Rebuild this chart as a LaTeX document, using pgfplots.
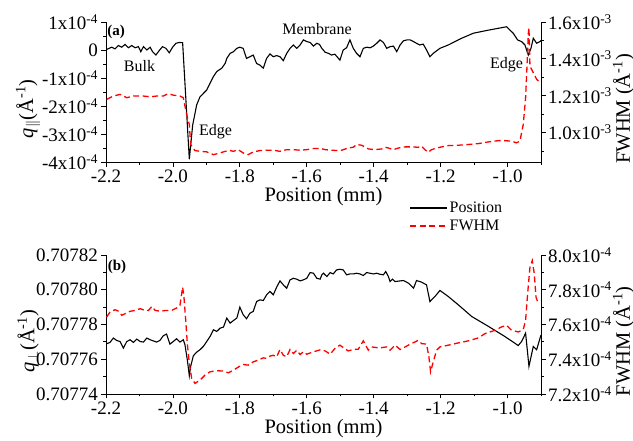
\documentclass[border=0pt]{standalone}
\usepackage{pgfplots}
\pgfplotsset{compat=1.18}
\usepackage{fontspec}
\setmainfont{Liberation Serif}

\tikzset{
  posline/.style={black, line width=1.1pt},
  fwline/.style={red, line width=1.3pt, dash pattern=on 6pt off 3.5pt},
}
\pgfplotsset{
  panel/.style={
    width=435pt, scale only axis,
    xmin=-2.2, xmax=-0.9,
    tick align=outside,
    axis line style={line width=0.8pt},
    major tick length=4.5pt, minor tick length=2.5pt,
    every tick/.style={black, line width=0.8pt},
    tick label style={font=\fontsize{19}{19}\selectfont},
    label style={font=\fontsize{20.5}{20.5}\selectfont},
  },
  leftpanel/.style={panel,
    axis y line*=left, axis x line*=bottom,
    xtick={-2.2,-2.0,-1.8,-1.6,-1.4,-1.2,-1.0},
    xticklabels={-2.2,-2.0,-1.8,-1.6,-1.4,-1.2,-1.0},
    minor xtick={-2.1,-1.9,-1.7,-1.5,-1.3,-1.1,-0.9},
    xlabel={Position (mm)},
    xlabel style={yshift=3pt},
    ylabel style={at={(axis description cs:-0.179,0.38)}, anchor=center},
  },
  rightpanel/.style={panel,
    axis y line*=right, axis x line=none,
    yticklabel style={xshift=-1pt},
    ylabel={FWHM (Å\textsuperscript{-1})},
    ylabel style={at={(axis description cs:1.19,0.38)}, anchor=center},
  },
}

\begin{document}
\begin{tikzpicture}
\path[use as bounding box] (0,0) rectangle (633pt,-440pt);

% ---------- (a) ----------
\begin{axis}[leftpanel,
  at={(106pt,-22pt)}, anchor=north west, height=140pt,
  ymin=-4, ymax=1,
  ytick={-4,-3,-2,-1,0,1},
  yticklabels={-4x10\textsuperscript{-4},-3x10\textsuperscript{-4},-2x10\textsuperscript{-4},-1x10\textsuperscript{-4},0,1x10\textsuperscript{-4}},
  minor ytick={-3.5,-2.5,-1.5,-0.5,0.5},
  ylabel={\textit{q}\textsubscript{\ensuremath{\|}}(Å\textsuperscript{-1})},
  legend style={at={(0.69,-0.393)}, anchor=west, draw=none, fill=none,
    font=\fontsize{16}{16}\selectfont, row sep=2pt},
  legend cell align=left,
  legend image code/.code={\draw[#1] (0pt,0pt) -- (37pt,0pt);},
]
\addplot[posline] coordinates {
(-2.198,0.02) (-2.183,0.10) (-2.173,0.04) (-2.163,0.16) (-2.153,0.10) (-2.143,0.20)
(-2.133,0.08) (-2.123,0.16) (-2.113,0.08) (-2.103,0.12) (-2.096,-0.06) (-2.088,0.12)
(-2.078,0.00) (-2.068,0.10) (-2.061,-0.06) (-2.051,-0.18) (-2.041,-0.02) (-2.031,0.12)
(-2.021,0.06) (-2.011,-0.10) (-2.001,0.10) (-1.991,0.24) (-1.981,0.27) (-1.971,0.26)
(-1.951,-3.90) (-1.941,-2.68) (-1.929,-1.96) (-1.919,-1.67) (-1.909,-1.55) (-1.899,-1.43)
(-1.889,-1.19) (-1.879,-0.95) (-1.869,-0.77) (-1.854,-0.65) (-1.844,-0.48) (-1.839,-0.30)
(-1.829,-0.12) (-1.819,-0.06) (-1.809,0.06) (-1.800,0.10) (-1.790,0.06) (-1.780,-0.30)
(-1.770,-0.24) (-1.760,-0.18) (-1.750,-0.48) (-1.740,-0.54) (-1.730,-0.65) (-1.720,-0.30)
(-1.710,-0.14) (-1.700,-0.24) (-1.690,-0.20) (-1.680,-0.24) (-1.670,-0.38) (-1.660,-0.12)
(-1.650,0.06) (-1.640,0.18) (-1.630,0.06) (-1.620,0.18) (-1.610,0.36) (-1.600,0.30)
(-1.590,0.27) (-1.580,0.14) (-1.570,0.24) (-1.562,0.20) (-1.555,0.06) (-1.545,-0.08)
(-1.535,-0.12) (-1.526,-0.18) (-1.516,-0.15) (-1.501,-0.36) (-1.491,0.00) (-1.481,0.08)
(-1.471,0.36) (-1.461,0.06) (-1.451,-0.12) (-1.441,-0.24) (-1.431,0.06) (-1.421,0.10)
(-1.411,0.08) (-1.401,0.14) (-1.391,0.24) (-1.381,0.36) (-1.371,0.27) (-1.361,0.06)
(-1.351,0.12) (-1.341,0.14) (-1.331,-0.06) (-1.321,0.18) (-1.311,0.33) (-1.301,0.36)
(-1.291,0.36) (-1.281,0.30) (-1.272,0.24) (-1.262,0.18) (-1.252,0.21) (-1.242,0.00)
(-1.232,-0.24) (-1.222,-0.12) (-1.202,0.06) (-1.177,0.18) (-1.137,0.42) (-1.102,0.60)
(-1.057,0.71) (-1.003,0.83) (-0.983,0.60) (-0.970,0.36) (-0.958,0.30) (-0.948,0.18)
(-0.938,-0.18) (-0.930,0.06) (-0.923,0.42) (-0.913,0.24) (-0.903,0.30) (-0.900,0.34)
};
\addlegendentry{Position}
\addlegendimage{fwline}
\addlegendentry{FWHM}
\end{axis}

\begin{axis}[rightpanel,
  at={(106pt,-22pt)}, anchor=north west, height=140pt,
  ymin=0.84, ymax=1.6,
  ytick={1.0,1.2,1.4,1.6},
  yticklabels={1.0x10\textsuperscript{-3},1.2x10\textsuperscript{-3},1.4x10\textsuperscript{-3},1.6x10\textsuperscript{-3}},
  minor ytick={0.9,1.1,1.3,1.5},
]
\addplot[fwline] coordinates {
(-2.198,1.180) (-2.178,1.198) (-2.158,1.207) (-2.138,1.189) (-2.118,1.198) (-2.088,1.198)
(-2.068,1.194) (-2.049,1.198) (-2.029,1.198) (-2.014,1.211) (-1.999,1.203) (-1.979,1.198)
(-1.969,1.189) (-1.959,1.098) (-1.951,1.044) (-1.947,0.935) (-1.934,0.902) (-1.919,0.898)
(-1.899,0.895) (-1.879,0.880) (-1.859,0.889) (-1.844,0.898) (-1.829,0.902) (-1.819,0.898)
(-1.805,0.907) (-1.790,0.889) (-1.775,0.880) (-1.760,0.895) (-1.740,0.902) (-1.720,0.904)
(-1.700,0.904) (-1.680,0.898) (-1.660,0.907) (-1.640,0.907) (-1.620,0.904) (-1.600,0.907)
(-1.580,0.913) (-1.560,0.914) (-1.545,0.907) (-1.526,0.904) (-1.506,0.902) (-1.496,0.904)
(-1.476,0.916) (-1.461,0.920) (-1.451,0.935) (-1.436,0.931) (-1.426,0.922) (-1.416,0.911)
(-1.396,0.907) (-1.376,0.911) (-1.366,0.920) (-1.356,0.916) (-1.341,0.907) (-1.326,0.916)
(-1.306,0.922) (-1.286,0.922) (-1.267,0.920) (-1.257,0.926) (-1.247,0.907) (-1.237,0.893)
(-1.227,0.907) (-1.212,0.916) (-1.197,0.922) (-1.177,0.929) (-1.147,0.931) (-1.117,0.935)
(-1.087,0.940) (-1.057,0.949) (-1.027,0.956) (-1.008,0.956) (-0.988,0.953) (-0.973,0.944)
(-0.963,0.953) (-0.953,1.044) (-0.946,1.189) (-0.942,1.352) (-0.938,1.534) (-0.936,1.570)
(-0.933,1.361) (-0.913,1.289) (-0.903,1.271)
};
\end{axis}

% ---------- (b) ----------
\begin{axis}[leftpanel,
  at={(106pt,-255pt)}, anchor=north west, height=139pt,
  ymin=0, ymax=8,
  ytick={0,2,4,6,8},
  yticklabels={0.70774,0.70776,0.70778,0.70780,0.70782},
  minor ytick={1,3,5,7},
  ylabel={\textit{q}\textsubscript{\ensuremath{\perp}}(Å\textsuperscript{-1})},
]
% values are (q - 0.70774) in units of 1e-5
\addplot[posline] coordinates {
(-2.198,2.89) (-2.188,2.97) (-2.178,3.22) (-2.168,3.08) (-2.158,3.02) (-2.148,2.64)
(-2.138,3.02) (-2.128,3.12) (-2.118,2.97) (-2.108,3.16) (-2.098,3.02) (-2.088,2.99)
(-2.078,3.22) (-2.068,3.12) (-2.059,3.06) (-2.049,2.99) (-2.039,3.08) (-2.029,3.35)
(-2.019,3.45) (-2.009,2.87) (-1.999,3.02) (-1.989,3.18) (-1.979,2.99) (-1.969,3.12)
(-1.964,2.83) (-1.957,1.97) (-1.951,1.05) (-1.947,1.59) (-1.939,2.20) (-1.929,2.41)
(-1.919,2.55) (-1.909,2.74) (-1.899,3.02) (-1.889,3.31) (-1.879,3.70) (-1.869,3.60)
(-1.859,3.79) (-1.849,3.85) (-1.839,4.37) (-1.829,4.08) (-1.819,4.23) (-1.809,4.37)
(-1.800,5.00) (-1.790,4.56) (-1.780,4.33) (-1.770,4.65) (-1.760,4.75) (-1.750,5.32)
(-1.740,5.42) (-1.730,5.38) (-1.720,5.71) (-1.710,5.90) (-1.700,5.71) (-1.690,6.15)
(-1.680,6.51) (-1.670,6.28) (-1.660,6.09) (-1.650,6.57) (-1.640,6.66) (-1.630,6.61)
(-1.620,6.51) (-1.610,6.57) (-1.600,6.66) (-1.590,6.99) (-1.580,6.95) (-1.570,6.66)
(-1.560,6.61) (-1.555,6.86) (-1.550,6.95) (-1.540,6.76) (-1.530,6.99) (-1.521,6.91)
(-1.511,7.14) (-1.501,7.18) (-1.491,7.14) (-1.481,6.86) (-1.471,6.91) (-1.461,6.91)
(-1.451,6.95) (-1.441,6.91) (-1.431,6.82) (-1.421,6.99) (-1.411,6.95) (-1.401,6.91)
(-1.391,6.95) (-1.381,6.89) (-1.371,6.86) (-1.364,7.05) (-1.356,6.76) (-1.351,6.47)
(-1.344,6.61) (-1.336,6.47) (-1.321,6.51) (-1.311,6.53) (-1.296,6.38) (-1.281,6.09)
(-1.272,6.53) (-1.257,6.44) (-1.242,6.28) (-1.232,5.32) (-1.217,5.61) (-1.202,5.96)
(-1.177,5.61) (-1.147,5.13) (-1.107,4.46) (-1.057,3.89) (-1.008,3.31) (-0.968,2.79)
(-0.958,3.02) (-0.946,3.50) (-0.936,1.59) (-0.923,2.74) (-0.913,2.55) (-0.900,3.40)
};
\end{axis}

\begin{axis}[rightpanel,
  at={(106pt,-255pt)}, anchor=north west, height=139pt,
  ymin=7.2, ymax=8.0,
  ytick={7.2,7.4,7.6,7.8,8.0},
  yticklabels={7.2x10\textsuperscript{-4},7.4x10\textsuperscript{-4},7.6x10\textsuperscript{-4},7.8x10\textsuperscript{-4},8.0x10\textsuperscript{-4}},
  minor ytick={7.3,7.5,7.7,7.9},
]
\addplot[fwline] coordinates {
(-2.198,7.643) (-2.188,7.672) (-2.173,7.685) (-2.163,7.677) (-2.153,7.653) (-2.143,7.662)
(-2.128,7.676) (-2.113,7.681) (-2.098,7.691) (-2.083,7.681) (-2.073,7.681) (-2.063,7.704)
(-2.053,7.681) (-2.039,7.677) (-2.019,7.681) (-2.004,7.681) (-1.989,7.695) (-1.979,7.710)
(-1.971,7.815) (-1.967,7.758) (-1.961,7.605) (-1.957,7.490) (-1.951,7.376) (-1.944,7.290)
(-1.934,7.261) (-1.919,7.280) (-1.904,7.309) (-1.889,7.328) (-1.869,7.334) (-1.849,7.332)
(-1.834,7.322) (-1.819,7.338) (-1.800,7.360) (-1.790,7.370) (-1.775,7.366) (-1.760,7.385)
(-1.745,7.395) (-1.730,7.408) (-1.720,7.405) (-1.710,7.418) (-1.700,7.423) (-1.690,7.414)
(-1.680,7.456) (-1.670,7.423) (-1.660,7.414) (-1.650,7.456) (-1.640,7.433) (-1.630,7.452)
(-1.620,7.427) (-1.610,7.443) (-1.600,7.429) (-1.580,7.443) (-1.560,7.454) (-1.545,7.448)
(-1.530,7.429) (-1.516,7.462) (-1.501,7.481) (-1.491,7.467) (-1.476,7.448) (-1.461,7.456)
(-1.446,7.458) (-1.431,7.506) (-1.416,7.452) (-1.406,7.471) (-1.391,7.467) (-1.376,7.467)
(-1.361,7.471) (-1.351,7.452) (-1.336,7.481) (-1.321,7.456) (-1.306,7.471) (-1.291,7.487)
(-1.276,7.500) (-1.267,7.509) (-1.257,7.490) (-1.242,7.487) (-1.235,7.414) (-1.230,7.328)
(-1.222,7.385) (-1.212,7.452) (-1.202,7.471) (-1.177,7.481) (-1.147,7.494) (-1.117,7.506)
(-1.087,7.523) (-1.067,7.548) (-1.037,7.567) (-1.018,7.586) (-1.003,7.595) (-0.988,7.567)
(-0.968,7.557) (-0.953,7.571) (-0.946,7.624) (-0.940,7.777) (-0.933,7.930) (-0.926,7.968)
(-0.920,7.891) (-0.915,7.758) (-0.908,7.720)
};
\end{axis}

% ---------- annotations ----------
\node[font=\bfseries\fontsize{15}{15}\selectfont] at (116pt,-32pt) {(a)};
\node[font=\bfseries\fontsize{15}{15}\selectfont] at (117pt,-267pt) {(b)};
\node[font=\fontsize{16}{16}\selectfont] at (139.5pt,-66pt) {Bulk};
\node[font=\fontsize{16}{16}\selectfont] at (215.5pt,-132pt) {Edge};
\node[font=\fontsize{16}{16}\selectfont] at (317pt,-29pt) {Membrane};
\node[font=\fontsize{16}{16}\selectfont] at (506.5pt,-65pt) {Edge};
\end{tikzpicture}
\end{document}
